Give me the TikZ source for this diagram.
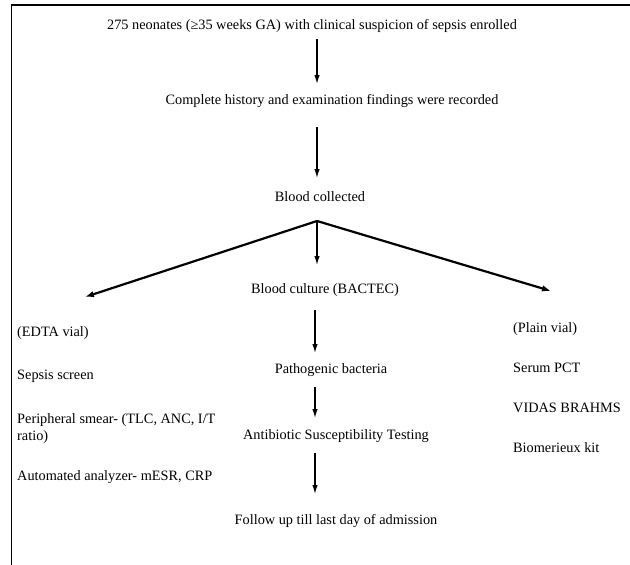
\documentclass[tikz,border=0pt]{standalone}
\usepackage{fontspec}
\setmainfont{Liberation Serif}
\usetikzlibrary{arrows.meta}
\begin{document}
\begin{tikzpicture}[x=1pt,y=-1pt,
  txt/.style={inner sep=0pt,font=\fontsize{14.3}{17}\selectfont,text height=10pt,text depth=3pt},
  ltxt/.style={txt,anchor=west},
  arr/.style={line width=1.3pt,-{Latex[length=9pt,width=5.5pt]}},
  darr/.style={line width=2.2pt,-{Latex[length=9pt,width=6.5pt]}}]
\useasboundingbox (0,0) rectangle (630,565);
\draw[line width=1.3pt] (630,5) -- (11.5,5) -- (11.5,565);
% center column
\node[txt] (t1) at (312,26) {275 neonates (≥35 weeks GA) with clinical suspicion of sepsis enrolled};
\node[txt] (t2) at (332,101) {Complete history and examination findings were recorded};
\node[txt] (t3) at (320,198) {Blood collected};
\node[txt] (t4) at (325,290) {Blood culture (BACTEC)};
\node[txt] (t5) at (331,370) {Pathogenic bacteria};
\node[txt] (t6) at (336,436) {Antibiotic Susceptibility Testing};
\node[txt] (t7) at (336,521) {Follow up till last day of admission};
% left column
\node[ltxt] (l1) at (17,333) {(EDTA vial)};
\node[ltxt] (l2) at (17,376) {Sepsis screen};
\node[ltxt,align=left,anchor=north west,text height=,text depth=] (l3) at (17,413) {Peripheral smear- (TLC, ANC, I/T\\ratio)};
\node[ltxt] (l4) at (17,477) {Automated analyzer- mESR, CRP};
% right column
\node[ltxt] (r1) at (513,329) {(Plain vial)};
\node[ltxt] (r2) at (513,369) {Serum PCT};
\node[ltxt] (r3) at (513,409) {VIDAS BRAHMS};
\node[ltxt] (r4) at (513,449) {Biomerieux kit};
% connectors
\coordinate (a1s) at (317,39);  \coordinate (a1e) at (317,84);
\coordinate (a2s) at (317,127); \coordinate (a2e) at (317,178);
\coordinate (br) at (317,221);
\coordinate (ac) at (317,265);
\coordinate (al) at (85,297);
\coordinate (ar) at (551,291);
\coordinate (a3s) at (315,310); \coordinate (a3e) at (315,353);
\coordinate (a4s) at (315,387); \coordinate (a4e) at (315,418);
\coordinate (a5s) at (315,453); \coordinate (a5e) at (315,494);
\draw[arr] (a1s) -- (a1e);
\draw[arr] (a2s) -- (a2e);
\draw[arr] (br) -- (ac);
\draw[darr] (br) -- (al);
\draw[darr] (br) -- (ar);
\draw[arr] (a3s) -- (a3e);
\draw[arr] (a4s) -- (a4e);
\draw[arr] (a5s) -- (a5e);
\end{tikzpicture}
\end{document}
